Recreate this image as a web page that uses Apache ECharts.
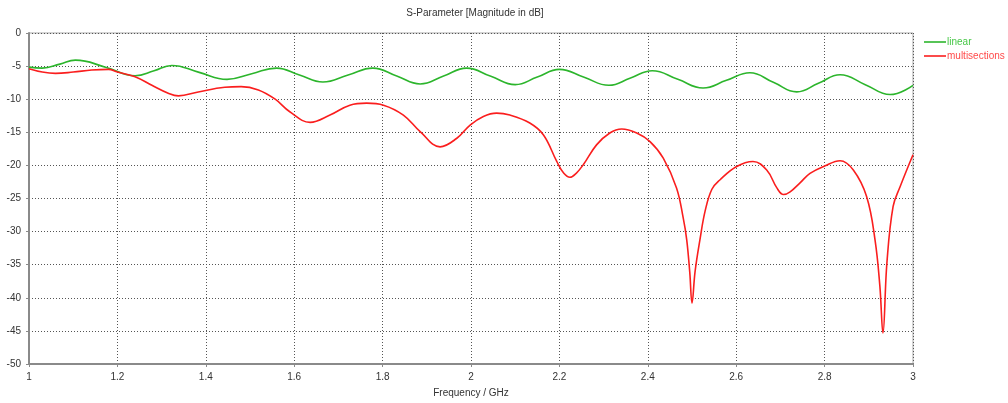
<!DOCTYPE html>
<html>
<head>
<meta charset="utf-8">
<script src="https://cdn.jsdelivr.net/npm/echarts@6/dist/echarts.min.js"></script>
<style>
  html, body { margin: 0; padding: 0; background: #fff; }
  #chart { width: 1008px; height: 403px; }
</style>
</head>
<body>
<div id="chart"></div>
<script>
// S11 magnitude (dB) versus frequency (GHz) for the two matching designs
const linearFreq = [1.00, 1.03, 1.07, 1.105, 1.175, 1.24, 1.283, 1.323, 1.385, 1.448, 1.504, 1.56, 1.612, 1.665, 1.722, 1.778, 1.832, 1.885, 1.938, 1.99, 2.045, 2.10, 2.15, 2.20, 2.256, 2.312, 2.361, 2.41, 2.468, 2.525, 2.578, 2.631, 2.684, 2.737, 2.786, 2.835, 2.892, 2.948, 3.00];
const linearDb = [-5.15, -5.3, -4.7, -4.1, -5.2, -6.45, -5.7, -4.9, -5.95, -7.0, -6.15, -5.3, -6.35, -7.4, -6.35, -5.3, -6.5, -7.7, -6.5, -5.3, -6.55, -7.8, -6.65, -5.5, -6.7, -7.9, -6.8, -5.7, -7.0, -8.3, -7.15, -6.0, -7.45, -8.9, -7.6, -6.3, -7.8, -9.3, -7.9];

const multiFreq = [1.00, 1.03, 1.06, 1.10, 1.142, 1.18, 1.20, 1.24, 1.278, 1.315, 1.338, 1.383, 1.443, 1.48, 1.519, 1.557, 1.59, 1.636, 1.681, 1.726, 1.764, 1.802, 1.847, 1.885, 1.93, 1.968, 1.998, 2.028, 2.058, 2.088, 2.133, 2.164, 2.194, 2.21, 2.224, 2.238, 2.254, 2.284, 2.314, 2.341, 2.375, 2.405, 2.435, 2.465, 2.48, 2.488, 2.495, 2.500, 2.507, 2.518, 2.53, 2.545, 2.563, 2.60, 2.638, 2.669, 2.692, 2.707, 2.722, 2.745, 2.767, 2.80, 2.835, 2.865, 2.895, 2.914, 2.925, 2.932, 2.941, 2.955, 2.971, 3.00];
const multiDb = [-5.4, -5.9, -6.1, -5.9, -5.6, -5.5, -5.9, -6.6, -7.9, -9.1, -9.5, -8.9, -8.2, -8.1, -8.6, -10.0, -11.9, -13.5, -12.4, -10.9, -10.6, -10.9, -12.4, -14.9, -17.2, -15.9, -13.9, -12.6, -12.1, -12.4, -13.6, -15.4, -19.4, -21.2, -21.8, -21.2, -19.9, -16.9, -15.1, -14.5, -15.1, -16.4, -18.9, -23.4, -27.9, -31.2, -36.2, -40.8, -36.0, -31.2, -26.8, -23.6, -22.2, -20.2, -19.4, -20.7, -23.4, -24.4, -24.0, -22.6, -21.2, -20.1, -19.3, -20.7, -24.7, -31.2, -38.2, -45.3, -34.7, -26.2, -23.2, -18.4];

const seriesNames = ['linear', 'multisections'];
const seriesColors = ['#2cb52c', '#fa1e1e'];
const legendTextColors = ['#47c747', '#ff4a4a'];

const zip = (xs, ys) => xs.map((x, i) => [x, ys[i]]);

const font = '"Liberation Sans", "DejaVu Sans", sans-serif';
const gridLine = { show: true, lineStyle: { color: '#555', type: [1, 2], width: 1 } };

const chart = echarts.init(document.getElementById('chart'), null, { renderer: 'canvas' });
chart.setOption({
  animation: false,
  backgroundColor: '#fff',
  title: {
    text: 'S-Parameter [Magnitude in dB]',
    left: 470, textAlign: 'center', top: 3,
    textStyle: { fontFamily: font, fontSize: 10, fontWeight: 'normal', color: '#333' }
  },
  legend: {
    orient: 'vertical', left: 924, top: 37, padding: 0, itemWidth: 22, itemHeight: 10, itemGap: 4,
    data: seriesNames.map((n, i) => ({
      name: n,
      itemStyle: { color: seriesColors[i] },
      textStyle: { color: legendTextColors[i] }
    })),
    textStyle: { fontFamily: font, fontSize: 10, padding: [0, 0, 0, -4] },
    icon: 'path://M0,4.2 L22,4.2 L22,5.8 L0,5.8 Z'
  },
  grid: {
    left: 29, right: 95, top: 33, bottom: 38,
    show: true, borderColor: '#a8a8a8', borderWidth: 1
  },
  xAxis: {
    type: 'value', min: 1, max: 3, interval: 0.2,
    name: 'Frequency / GHz', nameLocation: 'middle', nameGap: 24,
    nameTextStyle: { fontFamily: font, fontSize: 10, color: '#333' },
    axisLine: { onZero: false, lineStyle: { color: '#8a8a8a', width: 2 } },
    axisTick: { show: true, length: 3, lineStyle: { color: '#8a8a8a' } },
    axisLabel: { fontFamily: font, fontSize: 10, color: '#333', margin: 8,
      formatter: v => String(Math.round(v * 10) / 10) },
    splitLine: gridLine
  },
  yAxis: {
    type: 'value', min: -50, max: 0, interval: 5,
    axisLine: { show: true, onZero: false, lineStyle: { color: '#8a8a8a', width: 2 } },
    axisTick: { show: true, length: 3, lineStyle: { color: '#8a8a8a' } },
    axisLabel: { fontFamily: font, fontSize: 10, color: '#333', margin: 8 },
    splitLine: gridLine
  },
  series: [
    {
      name: seriesNames[0], type: 'line', data: zip(linearFreq, linearDb),
      symbol: 'none', smooth: 0.45,
      lineStyle: { color: seriesColors[0], width: 1.6 }, itemStyle: { color: seriesColors[0] }
    },
    {
      name: seriesNames[1], type: 'line', data: zip(multiFreq, multiDb),
      symbol: 'none', smooth: 0.4,
      lineStyle: { color: seriesColors[1], width: 1.6 }, itemStyle: { color: seriesColors[1] }
    }
  ]
});
</script>
</body>
</html>
